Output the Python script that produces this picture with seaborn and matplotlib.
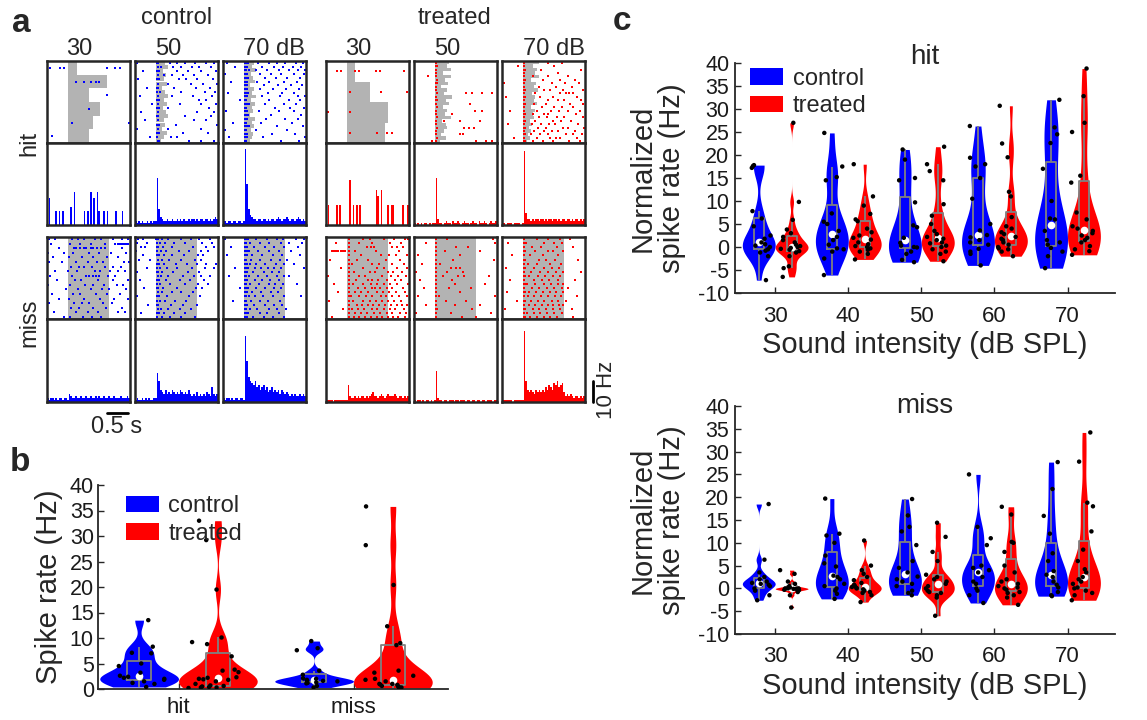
import numpy as np
import pandas as pd
import seaborn as sns
import matplotlib.pyplot as plt
from matplotlib.patches import Patch
from matplotlib.transforms import blended_transform_factory

# ---------------- data ----------------
GROUPS = ['control', 'treated']
COLORS = {'control': '#0000ff', 'treated': '#ff0000'}
LEVELS = [30, 40, 50, 60, 70]
OUTCOMES = ['hit', 'miss']

# panel a: spike times (s) per trial, stimulus onset at 0
CTRL_HIT_30 = [[-0.42, -0.18, -0.1, 0.95, 1.15, 1.27], [0.19, 0.39, 0.55, 0.69, 0.75], [0.94],
               [0.51], [0.1, 1.48], [-0.38]]
CTRL_HIT_30_RT = [0.22, 0.95, 0.5, 0.78, 0.62, 0.5]
CTRL_HIT_50 = [[-0.45, 0.04, 0.06, 0.35, 0.52, 0.7, 0.95, 1.2, 1.4], [0.05, 0.12, 0.42, 0.6, 0.88, 1.05, 1.32],
               [-0.3, 0.03, 0.07, 0.5, 0.78, 1.1, 1.45], [0.05, 0.2, 0.38, 0.66, 0.92, 1.25],
               [-0.42, 0.04, 0.08, 0.55, 0.74, 1.0, 1.38], [0.06, 0.3, 0.85, 1.15, 1.48],
               [-0.2, 0.03, 0.05, 0.45, 0.98, 1.3], [0.04, 0.1, 0.62, 1.18, 1.42], [-0.38, 0.05, 0.4, 0.9, 1.35],
               [0.03, 0.07, 1.05, 1.22], [-0.1, 0.05, 0.58, 1.1, 1.46], [0.04, 0.08, 0.3, 1.28],
               [-0.35, 0.05, 1.0, 1.4], [0.03, 0.06, 0.7, 1.33], [-0.25, 0.05, 0.92, 1.2], [0.04, 0.09, 0.48, 1.47],
               [-0.44, 0.05, 0.3, 1.08], [0.03, 0.07, 0.65, 1.25], [-0.15, 0.04, 0.36, 0.52], [0.05, 0.08, 0.8, 1.1, 1.4]]
CTRL_HIT_50_RT = [0.22, 0.3, 0.18, 0.25, 0.2, 0.28, 0.15, 0.22, 0.3, 0.2, 0.26, 0.18, 0.24, 0.3, 0.2, 0.22,
                  0.16, 0.28, 0.2, 0.12]
CTRL_HIT_70 = [[-0.4, 0.03, 0.06, 0.1, 0.35, 0.6, 0.8, 1.0, 1.25, 1.42], [-0.2, 0.04, 0.08, 0.45, 0.72, 0.95, 1.18, 1.38],
               [0.03, 0.05, 0.12, 0.3, 0.55, 0.85, 1.1, 1.3, 1.48], [-0.45, 0.04, 0.07, 0.4, 0.65, 0.9, 1.2, 1.45],
               [0.03, 0.06, 0.1, 0.52, 0.78, 1.05, 1.35], [-0.3, 0.04, 0.08, 0.33, 0.6, 0.98, 1.28],
               [0.03, 0.05, 0.09, 0.48, 0.82, 1.15, 1.4], [0.04, 0.07, 0.38, 0.7, 1.02, 1.32],
               [-0.38, 0.03, 0.06, 0.11, 0.58, 0.92, 1.22], [0.04, 0.08, 0.44, 0.88, 1.3, 1.47],
               [-0.1, 0.03, 0.06, 0.62, 1.08, 1.36], [0.04, 0.07, 0.12, 0.5, 0.96, 1.26], [0.03, 0.05, 0.75, 1.12, 1.44],
               [-0.42, 0.04, 0.08, 0.36, 0.84, 1.2], [0.03, 0.06, 0.1, 0.66, 1.38], [0.04, 0.07, 0.54, 1.0, 1.3],
               [-0.25, 0.03, 0.05, 0.42, 1.16], [0.04, 0.08, 0.12, 0.8, 1.42], [-0.44, 0.03, 0.06, 0.3, 1.05],
               [0.04, 0.07, 0.68, 1.24], [-0.35, 0.03, 0.05, 0.09, 0.46, 1.48], [0.04, 0.06, 0.9, 1.34]]
CTRL_HIT_70_RT = [0.25, 0.2, 0.3, 0.18, 0.22, 0.28, 0.15, 0.24, 0.2, 0.3, 0.18, 0.26, 0.2, 0.22, 0.16, 0.28,
                  0.2, 0.24, 0.18, 0.22, 0.2, 0.15]
CTRL_MISS_30 = [[-0.45, -0.3, 0.1, 0.25, 0.4, 0.65, 0.8, 1.1, 1.3, 1.45],
                [-0.4, 0.05, 0.3, 0.55, 0.9, 1.15, 1.2, 1.25, 1.3, 1.35, 1.4, 1.45],
                [-0.2, 0.15, 0.2, 0.3, 0.38, 0.45, 0.55, 0.62, 0.7, 0.8, 0.9, 1.3], [-0.48, -0.1, 0.12, 0.5, 0.75, 1.05, 1.4],
                [-0.35, 0.02, 0.35, 0.6, 0.95, 1.2], [-0.45, -0.15, 0.2, 0.48, 0.7, 0.85, 1.35, 1.48],
                [0.08, 0.28, 0.4, 0.58, 0.9, 1.1, 1.28], [-0.3, 0.0, 0.22, 0.65, 0.78, 1.02, 1.22, 1.38],
                [-0.42, 0.1, 0.45, 0.52, 0.6, 0.68, 0.75, 0.98, 1.15], [-0.25, 0.18, 0.32, 0.72, 1.08, 1.45],
                [-0.48, 0.05, 0.42, 0.6, 0.88, 1.18, 1.32], [-0.05, 0.25, 0.55, 0.82, 1.0, 1.4],
                [-0.38, 0.12, 0.3, 0.68, 0.95, 1.25], [-0.2, 0.02, 0.4, 0.78, 1.12, 1.46],
                [-0.45, 0.15, 0.35, 0.5, 0.85, 1.06], [0.08, 0.26, 0.62, 0.92, 1.3],
                [-0.32, 0.2, 0.48, 0.74, 1.2, 1.38], [-0.1, 0.06, 0.36, 0.58, 0.8]]
CTRL_MISS_50 = [[-0.42, -0.3, 0.0, 0.05, 0.15, 0.3, 0.62, 0.85, 1.05, 1.3], [-0.45, -0.2, 0.03, 0.1, 0.22, 0.45, 0.7, 1.12, 1.35],
                [-0.35, -0.25, 0.02, 0.06, 0.18, 0.38, 0.9, 1.2, 1.4], [-0.48, 0.04, 0.12, 0.25, 0.55, 0.8, 1.1, 1.25],
                [-0.3, 0.03, 0.08, 0.2, 0.4, 0.68, 1.02, 1.15], [-0.4, -0.15, 0.05, 0.14, 0.32, 0.6, 0.95, 1.08],
                [0.02, 0.07, 0.2, 0.48, 0.75, 1.0, 1.22, 1.45], [-0.22, 0.04, 0.1, 0.28, 0.5, 0.88, 1.18, 1.4],
                [-0.45, 0.03, 0.06, 0.16, 0.42, 0.78, 1.05], [0.05, 0.12, 0.3, 0.65, 0.92, 1.1, 1.3],
                [-0.38, 0.02, 0.08, 0.24, 0.58, 0.82, 1.16], [0.04, 0.1, 0.35, 0.7, 1.02, 1.25],
                [-0.28, 0.03, 0.06, 0.18, 0.52, 0.96, 1.12], [0.05, 0.14, 0.4, 0.62, 0.9],
                [-0.44, 0.02, 0.08, 0.26, 0.8, 1.06], [0.04, 0.1, 0.22, 0.46, 0.74],
                [-0.18, 0.03, 0.06, 0.36, 0.66, 1.0], [0.05, 0.12, 0.3, 0.58, 0.86],
                [-0.35, 0.02, 0.09, 0.2, 0.44, 0.7], [0.04, 0.16, 0.34, 0.62, 0.94]]
CTRL_MISS_70 = [[-0.45, 0.02, 0.05, 0.1, 0.3, 0.55, 0.8, 0.95, 1.25, 1.45], [0.03, 0.06, 0.15, 0.4, 0.62, 0.9, 1.1, 1.4],
                [-0.3, 0.02, 0.04, 0.08, 0.25, 0.5, 0.72, 0.98, 1.3], [0.03, 0.07, 0.12, 0.35, 0.6, 0.85, 1.15],
                [-0.4, 0.02, 0.05, 0.09, 0.2, 0.45, 0.7, 0.92, 1.35], [0.03, 0.06, 0.18, 0.38, 0.66, 0.88, 1.05],
                [0.02, 0.04, 0.08, 0.14, 0.3, 0.52, 0.78, 0.96, 1.2], [-0.2, 0.03, 0.06, 0.1, 0.28, 0.42, 0.58, 0.74, 0.9, 1.46],
                [0.02, 0.05, 0.08, 0.22, 0.48, 0.68, 0.84], [-0.35, 0.03, 0.06, 0.12, 0.34, 0.56, 0.8, 0.98, 1.1],
                [0.02, 0.04, 0.09, 0.26, 0.44, 0.64, 0.86], [0.03, 0.06, 0.16, 0.36, 0.6, 0.76, 0.94, 1.28],
                [-0.1, 0.02, 0.05, 0.1, 0.3, 0.5, 0.72, 0.9], [0.03, 0.07, 0.2, 0.42, 0.66, 0.82],
                [0.02, 0.05, 0.12, 0.28, 0.46, 0.7, 0.96, 1.38], [-0.25, 0.03, 0.06, 0.18, 0.38, 0.58, 0.88],
                [0.02, 0.04, 0.08, 0.24, 0.52, 0.74, 0.92], [0.03, 0.06, 0.14, 0.32, 0.62, 0.8, 1.02],
                [0.02, 0.05, 0.1, 0.4, 0.56, 0.84], [0.03, 0.07, 0.22, 0.48, 0.7, 0.98]]
TRT_HIT_30 = [[-0.24, -0.14, 0.19, 0.29, 0.7, 0.81, 1.37], [0.09, 0.82, 1.46], [-0.44, 0.09], [0.09, 0.72, 0.97, 1.08]]
TRT_HIT_30_RT = [0.19, 0.55, 0.99, 0.93]
TRT_HIT_50 = [[0.04], [0.03, 0.06], [0.04], [0.03], [-0.17, 0.04], [0.05], [0.03, 0.06], [0.04], [0.03],
              [0.05, 0.76, 0.9, 1.15, 1.39], [0.04], [0.03, 0.06], [0.04, 0.84], [0.05], [0.03, 0.96, 1.15],
              [0.04, 0.42], [0.05], [0.03, 0.22, 0.62, 1.1], [0.04], [0.05, 0.7, 0.83, 0.95], [0.03],
              [0.04, 0.62, 0.68], [0.05], [-0.07, 0.03, 0.99, 1.23, 1.39]]
TRT_HIT_50_RT = [0.35, 0.3, 0.4, 0.2, 0.38, 0.25, 0.32, 0.15, 0.3, 0.22, 0.42, 0.28, 0.35, 0.2, 0.3, 0.25,
                 0.4, 0.18, 0.26, 0.3, 0.22, 0.15, 0.28, 0.12]
TRT_HIT_70 = [[0.02, 0.6, 0.95], [-0.12, 0.03, 0.75], [0.02, 0.05, 0.45, 1.4], [0.03, 0.85], [0.02, 0.25, 0.62, 1.1],
              [0.03, 0.05, 0.48, 0.9, 1.25], [-0.45, 0.02, 0.7, 1.02, 1.35], [0.03, 0.38, 0.8, 1.18],
              [0.02, 0.05, 0.52, 0.66, 0.98, 1.45], [0.03, 0.3, 0.9, 1.05, 1.12, 1.2], [-0.4, 0.02, 0.05, 0.42, 0.72, 1.3],
              [0.03, 0.6, 0.85, 1.0, 1.4], [0.02, 0.05, 0.28, 0.55, 1.15, 1.46], [0.03, 0.46, 0.76, 0.94, 1.22],
              [-0.3, 0.02, 0.35, 0.68, 0.88, 1.08, 1.38], [0.03, 0.05, 0.25, 0.5, 0.62, 1.28],
              [0.02, 0.4, 0.58, 0.82, 1.0, 1.44], [0.03, 0.05, 0.3, 0.74, 0.92, 1.16],
              [-0.35, 0.02, 0.22, 0.45, 0.64, 0.78, 1.34], [0.03, 0.05, 0.36, 0.56, 0.96, 1.1, 1.48],
              [0.02, 0.28, 0.5, 0.7, 0.86, 1.25], [0.03, 0.05, 0.2, 0.42, 0.6, 1.04, 1.2, 1.42],
              [-0.2, 0.02, 0.34, 0.66, 0.8, 0.9, 1.3], [0.03, 0.05, 0.25, 0.48, 0.72, 1.12, 1.38]]
TRT_HIT_70_RT = [0.4, 0.25, 0.35, 0.3, 0.38, 0.2, 0.32, 0.28, 0.36, 0.22, 0.3, 0.26, 0.34, 0.2, 0.3, 0.24,
                 0.28, 0.18, 0.22, 0.15, 0.2, 0.12, 0.18, 0.1]
TRT_MISS_30 = [[0.05, 0.4, 0.55, 0.9, 1.15, 1.4, 1.48], [-0.25, 0.06, 0.3, 0.62, 1.05, 1.3],
               [0.05, 0.48, 0.58, 0.66, 1.1, 1.2, 1.36], [-0.35, -0.3, -0.25, -0.2, -0.15, -0.1, -0.05, 0.06, 0.2, 0.7, 1.25],
               [0.05, 0.35, 0.82, 1.02, 1.18, 1.44], [-0.4, 0.06, 0.25, 0.5, 0.95, 1.28],
               [0.05, 0.12, 0.6, 0.78, 1.08, 1.38], [-0.15, 0.06, 0.4, 0.72, 0.9, 1.2, 1.46],
               [0.05, 0.18, 0.55, 0.68, 1.0, 1.12, 1.32], [-0.45, 0.06, 0.3, 0.45, 0.84, 1.06, 1.24, 1.42],
               [0.05, 0.22, 0.5, 0.62, 0.76, 0.98, 1.16, 1.3], [-0.3, 0.06, 0.14, 0.38, 0.58, 0.72, 0.9, 1.04, 1.22, 1.48],
               [0.05, 0.26, 0.44, 0.6, 0.68, 0.8, 0.96, 1.1, 1.36], [-0.2, 0.06, 0.2, 0.34, 0.52, 0.74, 0.88, 1.02, 1.18, 1.4],
               [0.05, 0.1, 0.3, 0.46, 0.62, 0.82, 0.94, 1.08, 1.26, 1.44],
               [-0.42, 0.06, 0.16, 0.4, 0.56, 0.7, 0.86, 1.0, 1.14, 1.3],
               [0.05, 0.24, 0.36, 0.5, 0.64, 0.78, 0.92, 1.06, 1.2, 1.34, 1.46],
               [-0.1, 0.06, 0.12, 0.28, 0.42, 0.6, 0.74, 0.9, 1.04, 1.16, 1.38],
               [0.05, 0.2, 0.34, 0.48, 0.66, 0.8, 0.96, 1.1, 1.28, 1.42],
               [-0.35, 0.06, 0.18, 0.3, 0.44, 0.58, 0.72, 0.86, 1.0, 1.12, 1.24, 1.4]]
TRT_MISS_50 = [[0.03, 0.3, 1.4], [-0.22, 0.04, 1.45], [0.03, 0.52, 0.8], [0.04, 0.25, 1.08], [-0.4, 0.03, 0.6],
               [0.04, 0.45, 1.42], [-0.3, 0.03, 0.12], [0.04, 0.38, 0.52, 0.62], [-0.44, 0.03, 0.3, 0.68],
               [0.04, 0.2, 0.56, 0.7, 1.3], [-0.35, 0.03, 0.42], [0.04, 0.5, 1.2], [-0.26, 0.03, 0.34, 0.88],
               [0.04, 0.62], [-0.4, 0.03, 0.1, 1.45], [0.04, 0.28, 0.75], [-0.2, 0.03, 0.5, 1.1],
               [0.04, 0.06, 0.9], [-0.45, 0.03, 0.4, 1.35], [0.04, 0.66, 1.0]]
TRT_MISS_70 = [[0.02, 0.04, 0.35, 0.62, 0.9, 1.15], [-0.35, 0.03, 0.08, 0.5, 0.75, 0.95], [0.02, 0.04, 0.22, 0.44, 0.82, 1.2],
               [0.03, 0.06, 0.3, 0.6, 0.72, 0.98], [-0.25, 0.02, 0.04, 0.18, 0.48, 0.86], [0.03, 0.06, 0.4, 0.56, 0.78, 1.32],
               [0.02, 0.04, 0.12, 0.34, 0.66, 0.92], [-0.4, 0.03, 0.06, 0.26, 0.52, 0.7, 0.88],
               [0.02, 0.04, 0.2, 0.42, 0.6, 0.8, 0.96, 1.4], [0.03, 0.06, 0.14, 0.36, 0.54, 0.74, 0.9],
               [-0.3, 0.02, 0.04, 0.28, 0.46, 0.64, 0.84, 1.25], [0.03, 0.06, 0.1, 0.3, 0.5, 0.68, 0.86, 0.98],
               [0.02, 0.04, 0.22, 0.38, 0.58, 0.76, 0.94, 1.1], [-0.38, 0.03, 0.06, 0.16, 0.32, 0.48, 0.66, 0.8, 0.96],
               [0.02, 0.04, 0.12, 0.28, 0.44, 0.62, 0.78, 0.92, 1.3], [-0.15, 0.03, 0.06, 0.2, 0.36, 0.52, 0.7, 0.84, 1.05],
               [0.02, 0.04, 0.14, 0.3, 0.46, 0.6, 0.74, 0.88, 0.98], [-0.42, 0.03, 0.06, 0.24, 0.4, 0.56, 0.72, 0.9, 1.18],
               [0.02, 0.04, 0.1, 0.26, 0.42, 0.58, 0.76, 0.94], [0.03, 0.06, 0.18, 0.34, 0.5, 0.66, 0.82, 1.2]]

# PSTH, spikes/s in 40 ms bins from -0.5 to 1.5 s
CTRL_HIT_30_PSTH = [0, 13, 0, 0, 0, 7, 0, 7, 0, 7, 0, 0, 0, 0, 9, 0, 16, 0, 0, 0, 0, 0, 7, 0, 7, 0, 16, 0, 13, 0,
                    16, 7, 0, 0, 7, 0, 7, 0, 0, 0, 0, 7, 0, 0, 0, 7, 0, 0, 0, 0]
CTRL_HIT_50_PSTH = [2, 1, 2, 1, 2, 1, 1, 2, 1, 2, 1, 2, 2, 23, 8, 4, 3, 2, 2, 3, 2, 2, 3, 2, 2, 3, 2, 3, 2, 3,
                    2, 2, 3, 2, 3, 3, 2, 3, 2, 3, 3, 2, 3, 3, 2, 3, 2, 3, 4, 3]
CTRL_HIT_70_PSTH = [2, 2, 1, 2, 2, 1, 2, 2, 1, 2, 2, 1, 2, 37, 20, 8, 5, 4, 3, 3, 2, 3, 3, 2, 3, 3, 2, 3, 2, 3,
                    3, 2, 3, 4, 3, 2, 3, 3, 4, 3, 2, 3, 3, 2, 3, 4, 3, 2, 3, 2]
CTRL_MISS_30_PSTH = [2, 1, 2, 2, 1, 2, 1, 2, 2, 1, 2, 2, 1, 4, 3, 2, 2, 3, 2, 2, 3, 2, 2, 3, 2, 2, 3, 2, 2, 3,
                     2, 3, 2, 2, 3, 2, 2, 3, 2, 2, 3, 2, 2, 2, 3, 2, 2, 2, 3, 2]
CTRL_MISS_50_PSTH = [1, 2, 1, 1, 2, 1, 2, 1, 2, 1, 1, 2, 2, 14, 10, 6, 5, 4, 6, 4, 5, 4, 6, 5, 4, 5, 4, 6, 5, 4,
                     5, 4, 6, 4, 3, 4, 3, 5, 3, 4, 3, 4, 3, 5, 4, 3, 7, 4, 3, 4]
CTRL_MISS_70_PSTH = [2, 1, 2, 2, 1, 2, 1, 2, 2, 1, 2, 2, 1, 32, 20, 12, 10, 9, 8, 10, 7, 8, 6, 7, 8, 6, 7, 5, 6, 7,
                     5, 6, 5, 6, 4, 6, 5, 4, 5, 4, 3, 4, 3, 4, 3, 3, 4, 3, 4, 3]
TRT_HIT_30_PSTH = [0, 10, 0, 0, 0, 0, 10, 0, 10, 0, 0, 0, 0, 0, 22, 0, 10, 0, 10, 0, 10, 0, 0, 0, 0, 0, 0, 0, 0, 0,
                   17, 14, 0, 17, 0, 0, 0, 10, 0, 10, 10, 0, 0, 0, 0, 0, 10, 0, 0, 10]
TRT_HIT_50_PSTH = [1, 0, 1, 0, 1, 0, 1, 1, 0, 1, 0, 1, 1, 23, 3, 1, 1, 0, 1, 2, 1, 1, 0, 2, 1, 1, 2, 1, 0, 1,
                   2, 1, 1, 0, 1, 2, 1, 1, 0, 2, 1, 1, 2, 1, 0, 1, 2, 1, 1, 2]
TRT_HIT_70_PSTH = [1, 1, 0, 1, 1, 1, 0, 1, 1, 1, 1, 0, 1, 36, 6, 3, 3, 2, 3, 2, 3, 3, 2, 3, 3, 2, 3, 2, 3, 3,
                   2, 3, 3, 2, 3, 2, 3, 3, 2, 3, 3, 2, 3, 2, 3, 3, 2, 3, 2, 3]
TRT_MISS_30_PSTH = [1, 1, 1, 1, 0, 1, 1, 1, 1, 1, 1, 1, 1, 8, 3, 2, 2, 3, 2, 3, 2, 3, 3, 2, 3, 2, 3, 4, 5, 3,
                    3, 2, 3, 4, 3, 2, 3, 4, 3, 3, 3, 4, 3, 2, 3, 3, 2, 3, 2, 3]
TRT_MISS_50_PSTH = [1, 0, 1, 1, 0, 1, 0, 1, 1, 0, 1, 0, 1, 15, 2, 1, 1, 0, 1, 1, 0, 1, 1, 1, 0, 1, 1, 0, 1, 1,
                    1, 0, 1, 1, 0, 1, 1, 0, 1, 1, 0, 1, 1, 0, 1, 1, 1, 0, 1, 1]
TRT_MISS_70_PSTH = [1, 1, 1, 1, 1, 1, 0, 1, 1, 1, 1, 1, 1, 34, 10, 6, 5, 6, 5, 4, 6, 5, 6, 5, 6, 5, 7, 6, 8, 7,
                    6, 9, 8, 10, 7, 8, 9, 5, 3, 4, 3, 4, 3, 2, 3, 3, 2, 3, 2, 3]

# panel b: spike rate (Hz) per neuron
B_CTRL_HIT = [0.4, 1.0, 1.2, 1.5, 1.8, 2.0, 2.2, 2.4, 2.6, 3.2, 4.5, 5.0, 7.0, 7.1, 8.3, 13.5]
B_TRT_HIT = [0.2, 0.3, 0.3, 0.4, 0.5, 0.6, 0.7, 1.0, 1.5, 1.8, 1.9, 2.0, 2.2, 2.3, 3.3, 3.6, 3.8, 6.4, 8.8,
             9.2, 10.1, 19.5, 29.2, 33.0]
B_CTRL_MISS = [0.3, 0.6, 1.1, 1.2, 1.3, 1.5, 1.6, 1.6, 1.8, 2.0, 2.1, 2.8, 3.6, 7.6, 8.0, 9.4]
B_TRT_MISS = [0.2, 0.3, 0.4, 0.5, 0.6, 0.8, 0.9, 1.0, 1.0, 1.5, 1.8, 2.0, 2.6, 3.2, 3.6, 8.6, 9.0, 12.3,
              20.4, 28.2, 35.8]

# panel c: normalized spike rate (Hz), one list per sound level 30..70 dB
C_HIT_CTRL = [
    [17.8, 17.6, 17.2, 7.8, 6.2, 4.5, 2.5, 1.8, 1.0, 0.6, 0.3, 0.0, -0.5, -0.8, -1.2, -2.0, -7.2],
    [24.8, 17.5, 15.2, 14.5, 7.3, 5.5, 5.0, 3.5, 2.2, 1.5, 0.5, -0.3, -0.5, -1.0, -2.5, -6.1],
    [21.2, 19.0, 15.0, 14.5, 9.7, 4.7, 4.3, 2.0, 0.9, 0.3, 0.0, -0.1, -1.0, -1.5, -2.8, -3.3],
    [26.3, 19.4, 18.0, 17.5, 15.0, 10.5, 5.0, 3.6, 2.6, 2.1, 1.5, 1.0, 0.5, -0.4, -1.0, -1.5, -4.0],
    [32.0, 26.0, 24.5, 22.6, 17.0, 10.0, 6.2, 6.0, 3.5, 1.5, 1.0, 0.5, -0.2, -1.0, -2.0, -4.6],
]
C_HIT_TRT = [
    [27.0, 9.8, 5.9, 3.8, 3.0, 2.2, 1.5, 1.0, 0.5, 0.2, 0.0, -0.2, -0.4, -0.6, -0.9, -1.2, -2.0, -4.2, -4.6, -6.5],
    [18.0, 11.0, 9.0, 7.2, 6.0, 5.6, 4.0, 3.2, 2.5, 2.0, 1.6, 1.0, 0.6, 0.2, 0.0, -0.3, -0.6, -1.0, -1.5, -2.7],
    [21.8, 18.0, 16.5, 14.5, 9.3, 6.8, 5.0, 3.5, 2.8, 2.2, 1.8, 1.5, 1.0, 0.8, 0.3, 0.0, -0.5, -1.0, -1.5, -3.1],
    [30.7, 22.5, 19.5, 12.0, 11.0, 6.5, 4.5, 4.0, 3.2, 2.8, 2.2, 1.8, 1.5, 1.0, 0.5, 0.0, -0.3, -0.5, -1.0, -2.0],
    [38.8, 32.8, 27.0, 25.0, 15.5, 14.0, 7.5, 6.0, 4.5, 4.0, 3.5, 3.0, 2.5, 2.0, 1.5, 1.0, 0.2, -0.5, -0.9, -1.7],
]
C_MISS_CTRL = [
    [18.5, 6.3, 3.5, 2.5, 2.0, 1.5, 1.2, 1.0, 0.8, 0.5, 0.0, -0.5, -1.5, -2.6],
    [19.7, 12.0, 11.6, 10.0, 7.2, 5.5, 4.8, 2.8, 2.5, 2.0, 1.0, 0.5, 0.0, -0.5, -1.2, -2.3],
    [19.6, 16.0, 13.5, 12.5, 9.5, 6.0, 4.5, 3.5, 2.6, 2.0, 1.5, 1.0, 0.5, -0.5, -1.0, -1.5],
    [25.0, 13.5, 11.0, 9.5, 5.0, 4.5, 4.0, 3.5, 2.5, 1.5, 1.0, 0.0, -0.5, -1.5, -3.2],
    [27.7, 21.8, 15.9, 12.0, 7.7, 6.0, 3.8, 3.0, 2.5, 1.5, 0.8, 0.2, -0.8, -1.5, -1.7],
]
C_MISS_TRT = [
    [4.0, 3.2, 1.5, 1.0, 0.5, 0.2, 0.1, 0.0, 0.0, -0.1, -0.1, -0.2, -0.3, -0.4, -0.8, -1.5, -4.2],
    [10.5, 5.0, 4.0, 3.2, 2.5, 1.8, 1.2, 0.8, 0.5, 0.3, 0.1, 0.0, -0.2, -0.5, -0.8, -1.0, -1.5, -3.0],
    [14.4, 11.3, 8.0, 6.0, 3.0, 2.5, 2.0, 1.5, 1.0, 0.5, 0.0, -0.5, -0.8, -1.0, -1.5, -2.0, -6.0],
    [17.9, 16.2, 10.2, 10.0, 8.0, 5.0, 3.5, 2.0, 1.5, 1.0, 0.5, 0.2, 0.0, -0.3, -0.8, -1.0, -1.5, -2.0, -3.6],
    [34.2, 27.8, 18.8, 18.0, 12.5, 8.5, 6.0, 4.2, 3.5, 2.5, 2.0, 1.5, 1.0, 0.2, 0.0, -0.5, -1.0, -1.5, -2.6],
]

# ---------------- style ----------------
sns.set_theme(style='ticks')
plt.rcParams['font.family'] = ['Liberation Sans', 'DejaVu Sans']
plt.rcParams['axes.unicode_minus'] = False

W, H = 1147, 720
GRAY = '#b3b3b3'
FRAME = '#262626'
T0, T1, BIN, STIM_DUR = -0.5, 1.5, 0.04, 1.0

fig = plt.figure(figsize=(W / 100, H / 100), dpi=100)


def rect(x0, y0, x1, y1):
    return [x0 / W, 1 - y1 / H, (x1 - x0) / W, (y1 - y0) / H]


def ftext(x, y, s, **kw):
    fig.text(x / W, 1 - y / H, s, **kw)


def frame(ax):
    ax.set_xticks([])
    ax.set_yticks([])
    for sp in ax.spines.values():
        sp.set_visible(True)
        sp.set_linewidth(1.8)
        sp.set_color(FRAME)


def raster(ax, trials, color, rt=None):
    if rt is not None:
        ax.barh(range(len(rt)), rt, height=1.0, left=0, color=GRAY, linewidth=0)
    else:
        ax.axvspan(0, STIM_DUR, color=GRAY, lw=0)
    rows = [i for i, tr in enumerate(trials) for _ in tr]
    times = [t for tr in trials for t in tr]
    ax.scatter(times, rows, s=3.2, color=color, marker='s', linewidths=0)
    ax.set_xlim(T0, T1)
    ax.set_ylim(len(trials) - 0.5, -0.5)
    frame(ax)


def psth(ax, heights, color):
    edges = T0 + BIN * np.arange(len(heights))
    ax.bar(edges, heights, width=BIN, align='edge', color=color, linewidth=0)
    ax.set_xlim(T0, T1)
    ax.set_ylim(0, 40)
    frame(ax)


# ---------------- panel a ----------------
COL_X = [47, 135, 223, 326, 414, 502]
COL_W = 83
ROWS = [(61, 143), (143, 225), (237, 319), (319, 402)]
panels = [
    ('control', CTRL_HIT_30, CTRL_HIT_30_RT, CTRL_HIT_30_PSTH, CTRL_MISS_30, CTRL_MISS_30_PSTH),
    ('control', CTRL_HIT_50, CTRL_HIT_50_RT, CTRL_HIT_50_PSTH, CTRL_MISS_50, CTRL_MISS_50_PSTH),
    ('control', CTRL_HIT_70, CTRL_HIT_70_RT, CTRL_HIT_70_PSTH, CTRL_MISS_70, CTRL_MISS_70_PSTH),
    ('treated', TRT_HIT_30, TRT_HIT_30_RT, TRT_HIT_30_PSTH, TRT_MISS_30, TRT_MISS_30_PSTH),
    ('treated', TRT_HIT_50, TRT_HIT_50_RT, TRT_HIT_50_PSTH, TRT_MISS_50, TRT_MISS_50_PSTH),
    ('treated', TRT_HIT_70, TRT_HIT_70_RT, TRT_HIT_70_PSTH, TRT_MISS_70, TRT_MISS_70_PSTH),
]
psth_axes = []
for x0, (grp, hit, rt, hit_psth, miss, miss_psth) in zip(COL_X, panels):
    c = COLORS[grp]
    axs = [fig.add_axes(rect(x0, y0, x0 + COL_W, y1)) for y0, y1 in ROWS]
    raster(axs[0], hit, c, rt)
    psth(axs[1], hit_psth, c)
    raster(axs[2], miss, c)
    psth(axs[3], miss_psth, c)
    psth_axes.append(axs[3])

FS_A = 17
ftext(177, 18, 'control', ha='center', va='center', fontsize=FS_A)
ftext(455, 18, 'treated', ha='center', va='center', fontsize=FS_A)
for x, lab, ha in [(79, '30', 'center'), (168, '50', 'center'), (243, '70 dB', 'left'),
                   (358, '30', 'center'), (447, '50', 'center'), (523, '70 dB', 'left')]:
    ftext(x, 49, lab, ha=ha, va='center', fontsize=FS_A)
ftext(29, 143, 'hit', ha='center', va='center', rotation=90, fontsize=FS_A)
ftext(29, 323, 'miss', ha='center', va='center', rotation=90, fontsize=FS_A)

# scale bars
ax_s = psth_axes[0]
tr = blended_transform_factory(ax_s.transData, ax_s.transAxes)
ax_s.plot([0.95, 1.45], [-0.13, -0.13], color='black', lw=2, transform=tr, clip_on=False)
ftext(117, 427, '0.5 s', ha='center', va='center', fontsize=FS_A)
ax_s = psth_axes[-1]
tr = blended_transform_factory(ax_s.transAxes, ax_s.transData)
ax_s.plot([1.096, 1.096], [0, 10], color='black', lw=2, transform=tr, clip_on=False)
ftext(606, 390, '10 Hz', ha='center', va='center', rotation=90, fontsize=16)


# ---------------- violins (b, c) ----------------
def robust_bw(kde):
    # Silverman's rule with min(sd, IQR/1.349), expressed as a factor of the sd
    d = kde.dataset[0]
    sd = d.std(ddof=1)
    q75, q25 = np.percentile(d, [75, 25])
    sigma = min(sd, (q75 - q25) / 1.349) if q75 > q25 else sd
    return 0.9 * sigma / sd * kde.n ** (-0.2)


def violins(ax, df, xcol, order):
    common = dict(data=df, x=xcol, y='rate', hue='group', order=order, hue_order=GROUPS, ax=ax, legend=False)
    sns.violinplot(palette=COLORS, cut=0, density_norm='width', inner=None, linewidth=0,
                   saturation=1, width=0.9, bw_method=robust_bw, **common)
    sns.boxplot(palette={g: '#808080' for g in GROUPS}, fill=False, width=0.9, gap=0.7,
                showfliers=False, showcaps=False, medianprops={'visible': False},
                linewidth=1.3, **common)
    sns.stripplot(palette={g: 'black' for g in GROUPS}, dodge=True, jitter=0.3, size=3.2, **common)
    sns.pointplot(palette={g: 'white' for g in GROUPS}, estimator='median', errorbar=None,
                  dodge=0.45, linestyle='none', marker='o', markersize=5.5, markeredgewidth=0, **common)


def style_axis(ax):
    sns.despine(ax=ax)
    for sp in ['left', 'bottom']:
        ax.spines[sp].set_linewidth(1.3)
        ax.spines[sp].set_color(FRAME)
    ax.tick_params(direction='in', length=4, width=1, colors=FRAME, labelcolor='#1a1a1a')


def legend(ax, fs, anchor):
    handles = [Patch(facecolor=COLORS[g], edgecolor='none', label=g) for g in GROUPS]
    ax.legend(handles=handles, loc='upper left', bbox_to_anchor=anchor, frameon=False, fontsize=fs,
              handlelength=1.4, handleheight=0.7, handletextpad=0.4, labelspacing=0.22, borderaxespad=0)


np.random.seed(3)

# panel b
df_b = pd.DataFrame(
    [('hit', 'control', v) for v in B_CTRL_HIT] + [('hit', 'treated', v) for v in B_TRT_HIT]
    + [('miss', 'control', v) for v in B_CTRL_MISS] + [('miss', 'treated', v) for v in B_TRT_MISS],
    columns=['outcome', 'group', 'rate'])
ax_b = fig.add_axes(rect(98, 485, 448, 689))
violins(ax_b, df_b, 'outcome', OUTCOMES)
style_axis(ax_b)
ax_b.set_xlim(-0.46, 1.54)
ax_b.set_ylim(0, 40)
ax_b.set_yticks(range(0, 41, 5))
ax_b.tick_params(axis='y', labelsize=15.5, pad=3)
ax_b.tick_params(axis='x', labelsize=16, pad=6)
ax_b.set_xlabel('')
ax_b.set_ylabel('Spike rate (Hz)', fontsize=21, labelpad=5)
legend(ax_b, 17, (0.052, 0.995))

# panel c
for outcome, ctrl, trt, (y0, y1), title_y in [('hit', C_HIT_CTRL, C_HIT_TRT, (63, 293), 0.996),
                                               ('miss', C_MISS_CTRL, C_MISS_TRT, (406, 634), 0.97)]:
    rows = []
    for lev, vc, vt in zip(LEVELS, ctrl, trt):
        rows += [(lev, 'control', v) for v in vc] + [(lev, 'treated', v) for v in vt]
    df_c = pd.DataFrame(rows, columns=['level', 'group', 'rate'])
    ax = fig.add_axes(rect(735, y0, 1115, y1))
    violins(ax, df_c, 'level', LEVELS)
    style_axis(ax)
    ax.set_xlim(-0.55, 4.65)
    ax.set_ylim(-10, 40)
    ax.set_yticks(range(-10, 41, 5))
    ax.tick_params(axis='y', labelsize=15.5, pad=4)
    ax.tick_params(axis='x', labelsize=16, pad=9)
    ax.set_xlabel('Sound intensity (dB SPL)', fontsize=21, labelpad=3)
    ax.set_ylabel('Normalized\nspike rate (Hz)', fontsize=21, labelpad=9, linespacing=1.05)
    ax.text(0.5, title_y, outcome, transform=ax.transAxes, ha='center', va='baseline', fontsize=20)
    if outcome == 'hit':
        legend(ax, 17, (0.015, 1.02))

# panel letters
ftext(21, 24, 'a', ha='center', va='center', fontsize=24, fontweight='bold')
ftext(20, 462, 'b', ha='center', va='center', fontsize=24, fontweight='bold')
ftext(622, 22, 'c', ha='center', va='center', fontsize=24, fontweight='bold')

fig.savefig('out.png', dpi=100, facecolor='white')
